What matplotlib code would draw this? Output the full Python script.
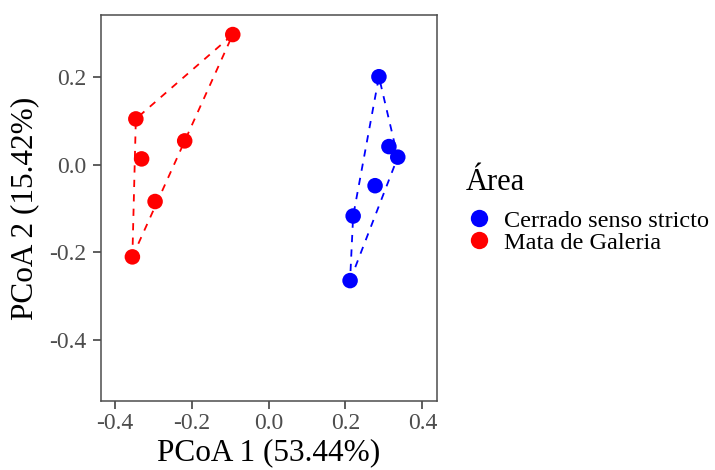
import matplotlib
matplotlib.use("Agg")
import matplotlib.pyplot as plt
import numpy as np
from matplotlib.lines import Line2D

plt.rcParams['font.family'] = ['Liberation Serif', 'DejaVu Serif']

groups = ["Cerrado senso stricto", "Mata de Galeria"]
colors = ["#0000FF", "#FF0000"]
cerrado_x = [0.287, 0.313, 0.336, 0.277, 0.220, 0.212]
cerrado_y = [0.200, 0.041, 0.017, -0.048, -0.117, -0.264]
mata_x = [-0.093, -0.345, -0.330, -0.218, -0.295, -0.354]
mata_y = [0.296, 0.104, 0.013, 0.054, -0.084, -0.210]
xticks = [-0.4, -0.2, 0.0, 0.2, 0.4]
yticks = [-0.4, -0.2, 0.0, 0.2]


def hull(xs, ys):
    pts = sorted(set(zip(xs, ys)))
    def cross(o, a, b):
        return (a[0]-o[0])*(b[1]-o[1]) - (a[1]-o[1])*(b[0]-o[0])
    lower, upper = [], []
    for p in pts:
        while len(lower) >= 2 and cross(lower[-2], lower[-1], p) <= 0:
            lower.pop()
        lower.append(p)
    for p in reversed(pts):
        while len(upper) >= 2 and cross(upper[-2], upper[-1], p) <= 0:
            upper.pop()
        upper.append(p)
    h = lower[:-1] + upper[:-1]
    h.append(h[0])
    return [p[0] for p in h], [p[1] for p in h]


fig = plt.figure(figsize=(7.15, 4.7), dpi=100)
ax = fig.add_axes([101/715, 1-401/470, 336/715, 386/470])

for xs, ys, c in [(cerrado_x, cerrado_y, colors[0]), (mata_x, mata_y, colors[1])]:
    hx, hy = hull(xs, ys)
    ax.plot(hx, hy, ls=(0, (4, 4)), color=c, lw=1.3, zorder=2)
    ax.scatter(xs, ys, s=125, color=c, edgecolors='none', zorder=3)

ax.set_xlim(-0.4356, 0.438)
ax.set_ylim(-0.538, 0.3405)
ax.set_xticks(xticks)
ax.set_yticks(yticks)
ax.set_xticklabels([f"{t:.1f}" for t in xticks])
ax.set_yticklabels([f"{t:.1f}" for t in yticks])
ax.tick_params(colors='#333333', labelcolor='#4D4D4D', labelsize=17, length=5.5, width=1.1)
ax.tick_params(axis='y', pad=5)
ax.tick_params(axis='x', pad=3)
for s in ax.spines.values():
    s.set_color('#4D4D4D')
    s.set_linewidth(1.1)
ax.set_xlabel("PCoA 1 (53.44%)", fontsize=22.5, labelpad=3)
ax.set_ylabel("PCoA 2 (15.42%)", fontsize=22.5, labelpad=7)

handles = [Line2D([], [], marker='o', ls='none', color=c, markersize=12.5, markeredgewidth=0) for c in colors]
leg = fig.legend(handles, groups, title="Área", loc='upper left', bbox_to_anchor=(466/715, 1-168/470),
                 frameon=False, fontsize=17.5, title_fontsize=22, handletextpad=0.45,
                 labelspacing=0.0, handlelength=1.1, borderaxespad=0, borderpad=0)
leg._legend_box.align = 'left'
leg._legend_box.sep = 9

fig.savefig("out.png", dpi=100)
